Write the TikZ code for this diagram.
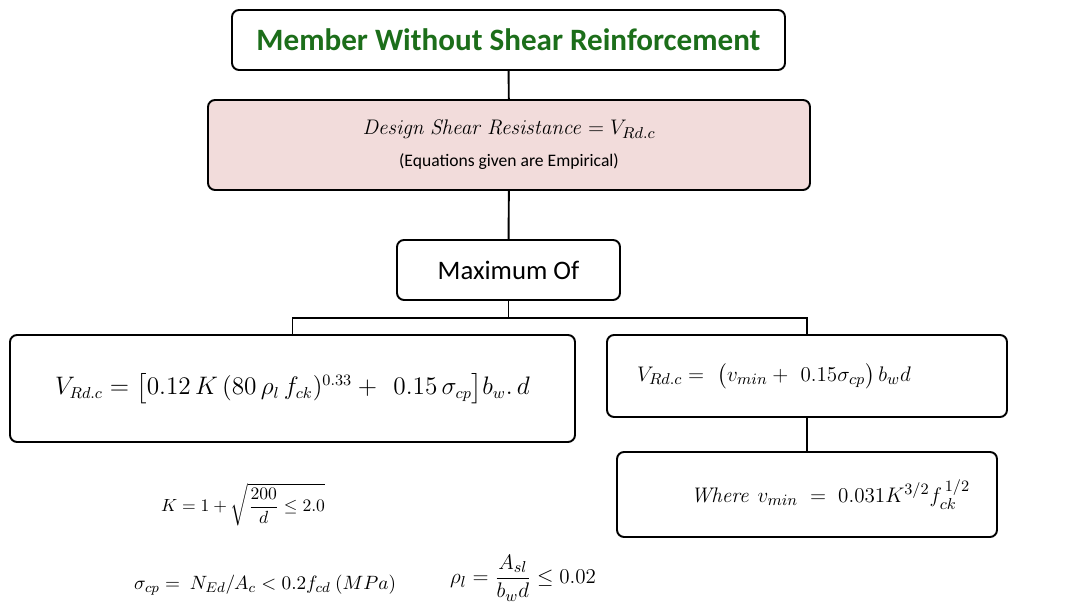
\documentclass[tikz,border=0pt]{standalone}
\usepackage{amsmath}
\usepackage[no-math]{fontspec}
\setmainfont{Carlito}
\usepackage{tikz}
\definecolor{shgreen}{HTML}{1C6E1A}
\definecolor{shpink}{HTML}{F2DCDB}

\begin{document}
\begin{tikzpicture}[x=1cm,y=1cm,
  flowbox/.style={draw,line width=1.1pt,rounded corners=4pt,inner sep=0pt},
  link/.style={line width=1.1pt}]
  \useasboundingbox (0,0) rectangle (21.48,12.22);
  \node[flowbox,minimum width=11.06cm,minimum height=1.2cm,text=shgreen,font=\fontsize{17.7}{21}\selectfont\bfseries] (title) at (10.17,11.42) {Member Without Shear Reinforcement};
  \node[flowbox,fill=shpink,minimum width=12.04cm,minimum height=1.8cm,align=center] (design) at (10.18,9.32)
    {\fontsize{12.7}{15}\selectfont $\mathit{Design\ Shear\ Resistance} = V_{Rd.c}$\\[6pt]
     \fontsize{10}{12}\selectfont (Equations given are Empirical)};
  \node[flowbox,minimum width=4.46cm,minimum height=1.2cm,font=\fontsize{15.2}{18}\selectfont] (maxof) at (10.17,6.82) {Maximum Of};
  \node[flowbox,minimum width=11.3cm,minimum height=2.14cm,font=\fontsize{13.4}{16}\selectfont] (lbox) at (5.85,4.45)
    {$V_{Rd.c} = \bigl[0.12\,K\,(80\,\rho_l\,f_{ck})^{0.33} +\ \ 0.15\,\sigma_{cp}\bigr]b_w.\,d$};
  \node[flowbox,text width=6.8cm,inner xsep=0.6cm,minimum height=1.64cm,align=left,font=\fontsize{12.7}{15}\selectfont] (rbox) at (16.14,4.70)
    {$V_{Rd.c} =\ \bigl(v_{min} +\ 0.15\sigma_{cp}\bigr)\,b_w d$};
  \node[flowbox,text width=6.52cm,inner xsep=0.54cm,minimum height=1.7cm,align=right,font=\fontsize{12.6}{15}\selectfont] (where) at (16.14,2.33)
    {$\mathit{Where}\ v_{min} = 0.031K^{3/2}f_{ck}^{\,1/2}$};
  \node[font=\fontsize{10}{12}\selectfont] (kfac) at (4.86,2.12) {$K = 1 + \sqrt{\dfrac{200}{d} \le 2.0}$};
  \node[font=\fontsize{11}{13}\selectfont] (sigcp) at (5.30,0.52) {$\sigma_{cp} =\ N_{Ed}/A_{c} < 0.2f_{cd}\ (MPa)$};
  \node[font=\fontsize{12.2}{14}\selectfont] (rhol) at (10.46,0.66) {$\rho_l = \dfrac{A_{sl}}{b_w d} \le 0.02$};
  \coordinate (bus) at (10.17,5.86);
  \draw[link] (title) -- (design);
  \draw[link] (design) -- (maxof);
  \draw[link] (maxof) -- (bus);
  \draw[link] (lbox.north) |- (bus) -| (rbox.north);
  \draw[link] (rbox) -- (where);
\end{tikzpicture}
\end{document}
